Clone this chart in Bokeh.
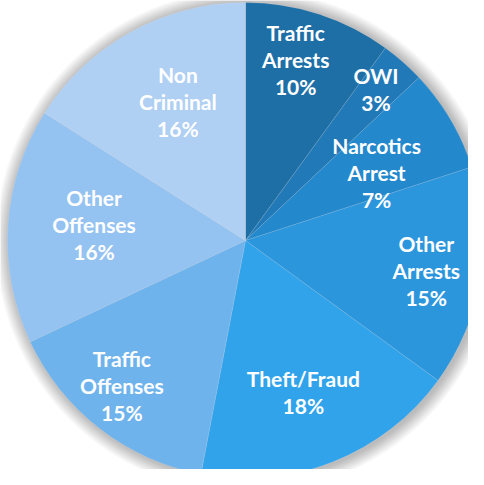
import math
from bokeh.plotting import figure
from bokeh.models import Range1d, ColumnDataSource
from bokeh.core.properties import value
from bokeh.embed import file_html
from bokeh.resources import INLINE

# ---- data ----
categories = ["Traffic\nArrests", "OWI", "Narcotics\nArrest", "Other\nArrests",
              "Theft/Fraud", "Traffic\nOffenses", "Other\nOffenses", "Non\nCriminal"]
values = [10, 3, 7, 15, 18, 15, 16, 16]
colors = ["#1e6fa6", "#2279b8", "#2488cd", "#2c96dd", "#31a3eb", "#6fb3ed", "#94c2f1", "#afcff3"]

# ---- layout (label placement inside each slice) ----
label_r = [0.79, 0.84, 0.62, 0.77, 0.68, 0.80, 0.64, 0.65]
label_frac = [0.43, 0.44, 0.63, 0.51, 0.51, 0.55, 0.54, 0.55]

R = 238
total = sum(values)
starts, ends, lx, ly, texts = [], [], [], [], []
cum = 0
for i, v in enumerate(values):
    a0 = cum / total * 2 * math.pi
    a1 = (cum + v) / total * 2 * math.pi
    starts.append(math.pi / 2 - a0)
    ends.append(math.pi / 2 - a1)
    am = a0 + (a1 - a0) * label_frac[i]
    r = R * label_r[i]
    lx.append(r * math.sin(am))
    ly.append(r * math.cos(am))
    texts.append(f"{categories[i]}\n{round(v / total * 100)}%")
    cum += v

src = ColumnDataSource(dict(start=starts, end=ends, color=colors, x=lx, y=ly, text=texts))

p = figure(width=468, height=469, output_backend="svg", toolbar_location=None,
           x_range=Range1d(-245, 223), y_range=Range1d(-229, 240),
           min_border=0, outline_line_color=None)
p.axis.visible = False
p.grid.visible = False
p.background_fill_color = "white"
p.border_fill_color = "white"

# soft shadow
for k in range(14, 0, -1):
    p.circle(x=[2], y=[-1], radius=R + k, fill_color="#000000", fill_alpha=0.018,
             line_color=None)

p.wedge(x=0, y=0, radius=R, start_angle="start", end_angle="end", direction="clock",
        fill_color="color", line_color="white", line_alpha=0.2, line_width=0.6, source=src)

p.text(x="x", y="y", text="text", source=src, text_color="white",
       text_font=value("Lato"), text_font_style="bold", text_font_size="21px",
       text_align="center", text_baseline="middle", text_line_height=1.08)

open("out.html", "w").write(file_html(p, INLINE))
